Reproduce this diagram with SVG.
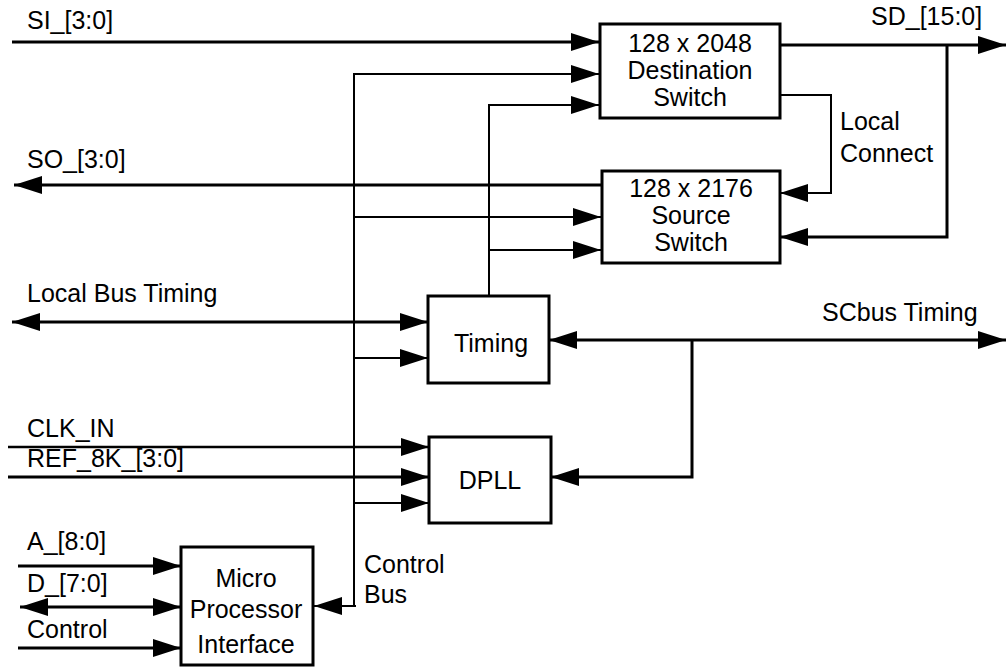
<svg xmlns="http://www.w3.org/2000/svg" width="1006" height="668" viewBox="0 0 1006 668">
  <style>
    .box { fill: #ffffff; stroke: #000000; stroke-width: 3; }
    .lbl { font-family: "Liberation Sans", Arial, sans-serif; font-size: 25px; fill: #000000; }
    .mid { text-anchor: middle; }
    .bus { fill: none; stroke: #000000; stroke-width: 3; }
    .thin { fill: none; stroke: #000000; stroke-width: 2; }
    .arr { marker-end: url(#head); }
    .both { marker-start: url(#head); marker-end: url(#head); }
  </style>
  <defs>
    <marker id="head" markerUnits="userSpaceOnUse" markerWidth="29" markerHeight="18" refX="28" refY="9" orient="auto-start-reverse">
      <path d="M0,0 L28,9 L0,18 Z" fill="#000000"/>
    </marker>
  </defs>
  <rect width="1006" height="668" fill="#ffffff"/>

  <!-- signal and bus connectors -->
  <g id="connectors">
    <path class="bus arr" d="M12,42 H599"/>
    <path class="bus arr" d="M601,185 H14"/>
    <path class="bus arr" d="M780,45 H1006"/>
    <path class="bus arr" d="M947,45 V237 H780"/>
    <path class="thin arr" d="M780,95 H831 V193 H780"/>
    <!-- control bus -->
    <path class="thin arr" d="M354,606 V74 H599"/>
    <path class="thin arr" d="M356,606 H314"/>
    <path class="thin arr" d="M354,217 H601"/>
    <path class="thin arr" d="M354,358 H428"/>
    <path class="thin arr" d="M354,503 H429"/>
    <!-- timing distribution -->
    <path class="thin arr" d="M489,296 V105 H599"/>
    <path class="thin arr" d="M489,250 H601"/>
    <path class="bus both" d="M12,322 H428"/>
    <path class="bus both" d="M549,340 H1006"/>
    <path class="bus arr" d="M692,340 V477 H551"/>
    <path class="thin arr" style="stroke-width:2.5" d="M8,447 H429"/>
    <path class="bus arr" d="M8,477 H429"/>
    <path class="bus arr" d="M18,566 H181"/>
    <path class="bus both" d="M20,607 H181"/>
    <path class="bus arr" d="M18,648 H181"/>
  </g>

  <!-- connector labels -->
  <g id="labels">
    <text class="lbl" x="27" y="29">SI_[3:0]</text>
    <text class="lbl" x="27" y="168">SO_[3:0]</text>
    <text class="lbl" x="871" y="25">SD_[15:0]</text>
    <text class="lbl" x="840" y="130">Local</text>
    <text class="lbl" x="840" y="162">Connect</text>
    <text class="lbl" x="27" y="302">Local Bus Timing</text>
    <text class="lbl" x="822" y="321">SCbus Timing</text>
    <text class="lbl" x="27" y="437">CLK_IN</text>
    <text class="lbl" x="27" y="467">REF_8K_[3:0]</text>
    <text class="lbl" x="27" y="550">A_[8:0]</text>
    <text class="lbl" x="27" y="592">D_[7:0]</text>
    <text class="lbl" x="27" y="638">Control</text>
    <text class="lbl" x="364" y="573">Control</text>
    <text class="lbl" x="364" y="603">Bus</text>
  </g>

  <g id="dest-switch">
    <rect class="box" x="600" y="24" width="180" height="94"/>
    <text class="lbl mid" x="690" y="52">128 x 2048</text>
    <text class="lbl mid" x="690" y="79">Destination</text>
    <text class="lbl mid" x="690" y="106">Switch</text>
  </g>

  <g id="source-switch">
    <rect class="box" x="602" y="171" width="178" height="92"/>
    <text class="lbl mid" x="691" y="197">128 x 2176</text>
    <text class="lbl mid" x="691" y="224">Source</text>
    <text class="lbl mid" x="691" y="251">Switch</text>
  </g>

  <g id="timing">
    <rect class="box" x="428" y="296" width="121" height="87"/>
    <text class="lbl mid" x="491" y="352">Timing</text>
  </g>

  <g id="dpll">
    <rect class="box" x="429" y="437" width="122" height="86"/>
    <text class="lbl mid" x="490" y="489">DPLL</text>
  </g>

  <g id="mpi">
    <rect class="box" x="181" y="547" width="132" height="118"/>
    <text class="lbl mid" x="246" y="587">Micro</text>
    <text class="lbl mid" x="246" y="618">Processor</text>
    <text class="lbl mid" x="246" y="653">Interface</text>
  </g>
</svg>
